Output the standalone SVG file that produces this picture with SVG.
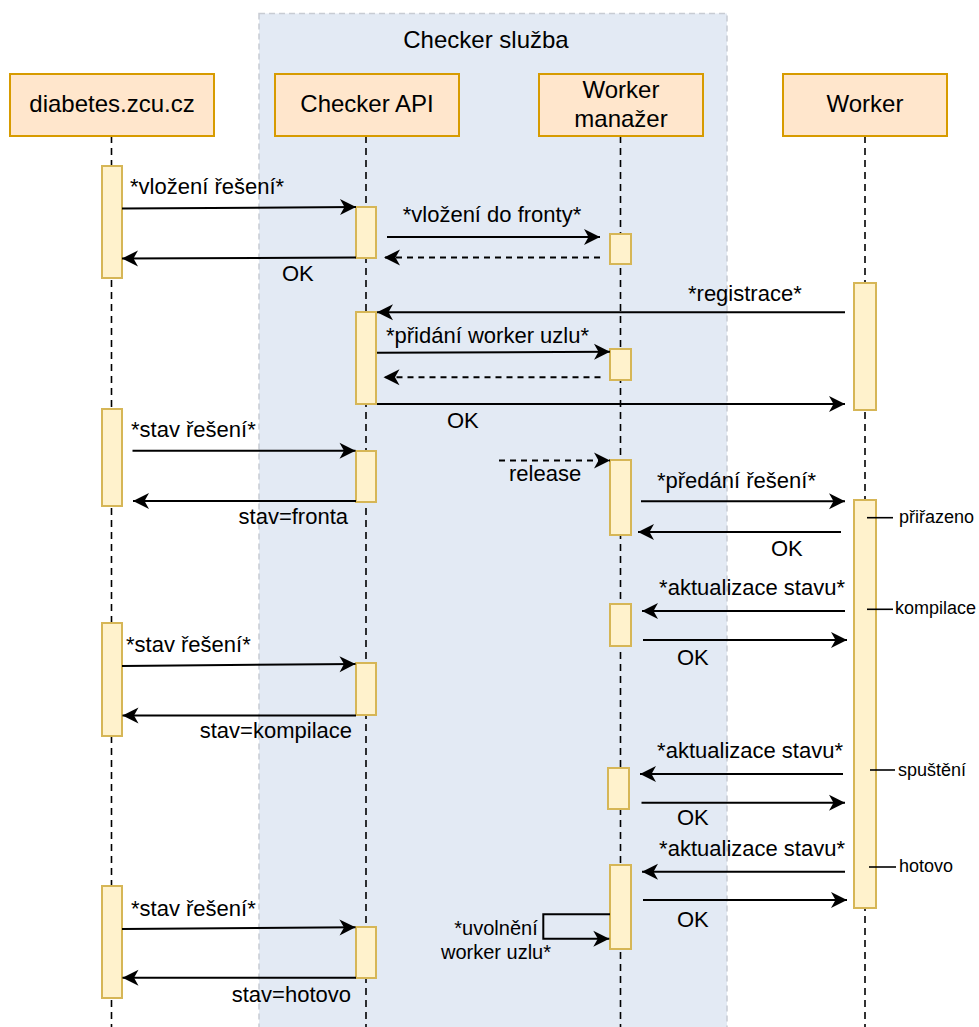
<svg xmlns="http://www.w3.org/2000/svg" width="979" height="1027" viewBox="0 0 979 1027">
  <style>
    text { font-family: "Liberation Sans", Arial, Helvetica, sans-serif; fill: #000; }
    .head { fill: #ffe6cc; stroke: #d79b00; stroke-width: 2; }
    .head-t { font-size: 24px; text-anchor: middle; }
    .life { stroke: #000; stroke-width: 1.6; stroke-dasharray: 7 5; fill: none; }
    .act { fill: #fff2cc; stroke: #d6b656; stroke-width: 2; }
    .msg { stroke: #000; stroke-width: 2; fill: none; marker-end: url(#arrow); }
    .ret { stroke: #000; stroke-width: 2; fill: none; stroke-dasharray: 6 5; marker-end: url(#arrow); }
    .lbl { font-size: 22px; }
    .self-lbl { font-size: 20px; text-anchor: middle; }
    .tick { stroke: #000; stroke-width: 1.6; }
    .state { font-size: 18px; }
  </style>
  <defs>
    <marker id="arrow" viewBox="-17 -9 18 18" markerWidth="18" markerHeight="18" refX="0" refY="0" orient="auto" markerUnits="userSpaceOnUse">
      <path d="M0,0 L-16,-8 L-11.5,0 L-16,8 Z" fill="#000"/>
    </marker>
  </defs>

  <!-- frame of the checker service -->
  <g id="checker-sluzba">
    <rect x="259" y="13.5" width="468" height="1030" fill="#e3eaf4" stroke="#c8ccd3" stroke-width="1.5" stroke-dasharray="6 4"/>
    <text x="486" y="48" font-size="24" text-anchor="middle">Checker služba</text>
  </g>

  <!-- participants: header, lifeline, activation bars -->
  <g id="diabetes">
    <line class="life" x1="111.5" y1="136" x2="111.5" y2="1027"/>
    <rect class="head" x="10" y="74" width="204" height="62"/>
    <text class="head-t" x="112" y="112">diabetes.zcu.cz</text>
    <rect class="act" x="102" y="166" width="20" height="112"/>
    <rect class="act" x="102" y="409" width="20" height="97"/>
    <rect class="act" x="102" y="623" width="20" height="113"/>
    <rect class="act" x="102" y="886" width="20" height="112"/>
  </g>

  <g id="checker-api">
    <line class="life" x1="366" y1="136" x2="366" y2="1027"/>
    <rect class="head" x="275" y="74" width="184" height="62"/>
    <text class="head-t" x="367" y="112">Checker API</text>
    <rect class="act" x="356" y="207" width="20" height="51"/>
    <rect class="act" x="356" y="312" width="20" height="92"/>
    <rect class="act" x="356" y="451" width="20" height="51"/>
    <rect class="act" x="356" y="663" width="20" height="52"/>
    <rect class="act" x="356" y="927" width="20" height="51"/>
  </g>

  <g id="worker-manazer">
    <line class="life" x1="620.5" y1="136" x2="620.5" y2="1027"/>
    <rect class="head" x="539" y="74" width="164" height="62"/>
    <text class="head-t" x="621" y="98">Worker</text>
    <text class="head-t" x="621" y="127">manažer</text>
    <rect class="act" x="610" y="234" width="21" height="30"/>
    <rect class="act" x="610" y="349" width="21" height="31"/>
    <rect class="act" x="610" y="460" width="21" height="75"/>
    <rect class="act" x="610" y="604" width="21" height="42"/>
    <rect class="act" x="608" y="768" width="21" height="41"/>
    <rect class="act" x="610" y="865" width="21" height="84"/>
  </g>

  <g id="worker">
    <line class="life" x1="865" y1="136" x2="865" y2="1027"/>
    <rect class="head" x="783" y="74" width="164" height="62"/>
    <text class="head-t" x="865" y="112">Worker</text>
    <rect class="act" x="854" y="283" width="22" height="127"/>
    <rect class="act" x="854" y="500" width="22" height="408"/>
  </g>

  <!-- messages -->
  <g id="connectors">
    <path class="msg" d="M122,208.5 L356,207"/>
    <path class="msg" d="M356,257.5 L122,258.5"/>
    <path class="msg" d="M387,237 L600,237"/>
    <path class="ret" d="M600,257.5 L384,257.5"/>
    <path class="msg" d="M845,312.3 L377,312.3"/>
    <path class="msg" d="M377,352.7 L610,351.7"/>
    <path class="ret" d="M600.5,377.3 L383.5,377.3"/>
    <path class="msg" d="M377,404 L845,404"/>
    <path class="msg" d="M132.5,450.7 L355.5,450.7"/>
    <path class="msg" d="M356,501 L133,501"/>
    <path class="ret" d="M499,460.5 L610,460.5"/>
    <path class="msg" d="M641,501.3 L845,501.3"/>
    <path class="msg" d="M841,532 L638,532"/>
    <path class="msg" d="M845,611 L642,611"/>
    <path class="msg" d="M643,640 L847,640"/>
    <path class="msg" d="M122,666 L355.5,664"/>
    <path class="msg" d="M356,715.5 L122.5,715.5"/>
    <path class="msg" d="M843,774 L640,774"/>
    <path class="msg" d="M641.5,802.7 L845,802.7"/>
    <path class="msg" d="M845,871.7 L642,871.7"/>
    <path class="msg" d="M643,900 L847,900"/>
    <path class="msg" d="M610,914.3 L543.3,914.3 L543.3,938.7 L609.3,938.7"/>
    <path class="msg" d="M122,929 L355.5,927.3"/>
    <path class="msg" d="M356,977.7 L122.5,977.7"/>
    <!-- state markers on the worker bar -->
    <line class="tick" x1="867" y1="517.7" x2="893" y2="517.7"/>
    <line class="tick" x1="867" y1="609.3" x2="893" y2="609.3"/>
    <line class="tick" x1="870" y1="770" x2="895" y2="770"/>
    <line class="tick" x1="869" y1="867" x2="896" y2="867"/>
  </g>

  <!-- message labels -->
  <g id="labels">
    <text class="lbl" x="130" y="194">*vložení řešení*</text>
    <text class="lbl" x="282" y="281">OK</text>
    <text class="lbl" x="492" y="222" text-anchor="middle">*vložení do fronty*</text>
    <text class="lbl" x="688" y="301">*registrace*</text>
    <text class="lbl" x="386" y="343">*přidání worker uzlu*</text>
    <text class="lbl" x="447" y="428">OK</text>
    <text class="lbl" x="131" y="437">*stav řešení*</text>
    <text class="lbl" x="348" y="524" text-anchor="end">stav=fronta</text>
    <text class="lbl" x="509" y="481">release</text>
    <text class="lbl" x="657" y="488">*předání řešení*</text>
    <text class="lbl" x="771" y="556">OK</text>
    <text class="lbl" x="845" y="595" text-anchor="end">*aktualizace stavu*</text>
    <text class="lbl" x="677" y="665">OK</text>
    <text class="lbl" x="126" y="652">*stav řešení*</text>
    <text class="lbl" x="352" y="738" text-anchor="end">stav=kompilace</text>
    <text class="lbl" x="843" y="758" text-anchor="end">*aktualizace stavu*</text>
    <text class="lbl" x="677" y="825">OK</text>
    <text class="lbl" x="845" y="856" text-anchor="end">*aktualizace stavu*</text>
    <text class="lbl" x="677" y="927">OK</text>
    <text class="lbl" x="131" y="916">*stav řešení*</text>
    <text class="lbl" x="351" y="1002" text-anchor="end">stav=hotovo</text>
    <text class="self-lbl" x="496" y="935">*uvolnění</text>
    <text class="self-lbl" x="496" y="959">worker uzlu*</text>
    <text class="state" x="899" y="523">přiřazeno</text>
    <text class="state" x="895" y="614">kompilace</text>
    <text class="state" x="898" y="776">spuštění</text>
    <text class="state" x="899" y="872">hotovo</text>
  </g>
</svg>
